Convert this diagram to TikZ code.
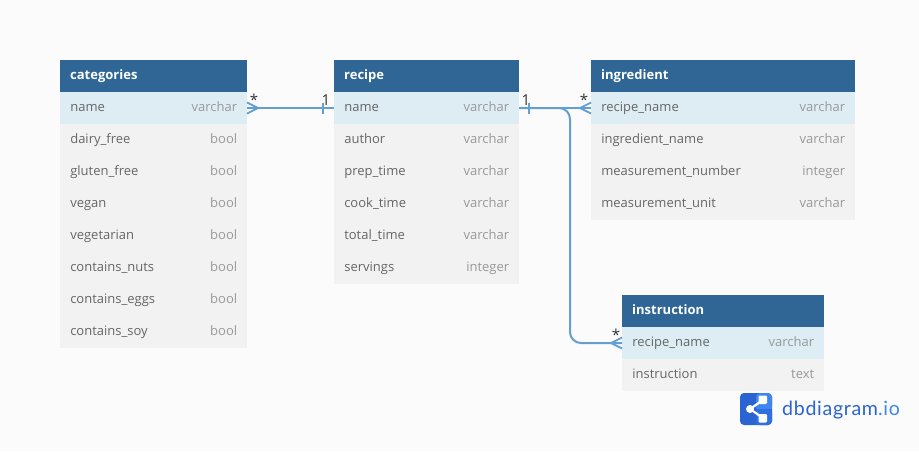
\documentclass[tikz,border=0pt]{standalone}
\usepackage{fontspec}
\setmainfont{Open Sans}
\newfontfamily\logofont[LetterSpace=3.5]{Lato}
\definecolor{bgc}{HTML}{FBFBFB}
\definecolor{headc}{HTML}{2F6695}
\definecolor{firstc}{HTML}{DEECF4}
\definecolor{rowc}{HTML}{F2F2F2}
\definecolor{namec}{HTML}{666666}
\definecolor{typec}{HTML}{999999}
\definecolor{linkc}{HTML}{649FD2}
\definecolor{logoa}{HTML}{2A64D2}
\definecolor{logob}{HTML}{3F86F0}
\definecolor{logoc}{HTML}{2F70DE}
\tikzset{
  box/.style={anchor=north west,inner sep=0pt,outer sep=0pt,minimum height=32pt},
  colname/.style={anchor=base west,inner sep=0pt,text=namec,font=\fontsize{13}{15}\selectfont},
  coltype/.style={anchor=base east,inner sep=0pt,text=typec,font=\fontsize{13}{15}\selectfont},
  title/.style={anchor=base west,inner sep=0pt,text=white,font=\fontsize{13}{15}\selectfont\bfseries},
  link/.style={draw=linkc,line width=2pt},
  mult/.style={anchor=base,inner sep=0pt,text=black!80,font=\fontsize{15}{17}\selectfont},
}
\newcommand{\dbtable}[6]{%
  \node[box,fill=headc,minimum width=#4pt] (#1) at (#2,#3) {};
  \node[title] (#1-title) at ([xshift=10pt,yshift=-3.5pt]#1.west) {#5};
  \foreach \nm/\ty [count=\i] in {#6} {
    \pgfmathsetmacro{\yy}{#3+32*\i}
    \ifnum\i=1 \def\rc{firstc}\else\def\rc{rowc}\fi
    \node[box,fill=\rc,minimum width=#4pt] (#1-\i) at (#2,\yy) {};
    \node[colname] (#1-\i-n) at ([xshift=10.1pt,yshift=-3.5pt]#1-\i.west) {\nm};
    \node[coltype] (#1-\i-t) at ([xshift=-9.6pt,yshift=-3.5pt]#1-\i.east) {\ty};
  }
}
\begin{document}
\begin{tikzpicture}[x=1pt,y=-1pt]
\path[use as bounding box,fill=bgc] (0,0) rectangle (919,451);
\dbtable{categories}{60}{60}{187}{categories}{name/varchar,dairy\_free/bool,gluten\_free/bool,vegan/bool,vegetarian/bool,contains\_nuts/bool,contains\_eggs/bool,contains\_soy/bool}
\dbtable{recipe}{334}{60}{185}{recipe}{name/varchar,author/varchar,prep\_time/varchar,cook\_time/varchar,total\_time/varchar,servings/integer}
\dbtable{ingredient}{591}{60}{264}{ingredient}{recipe\_name/varchar,ingredient\_name/varchar,measurement\_number/integer,measurement\_unit/varchar}
\dbtable{instruction}{622}{295}{202}{instruction}{recipe\_name/varchar,instruction/text}
% connectors
\draw[link] (categories-1.east) -- (recipe-1.west);
\draw[link] (recipe-1.east) -- (ingredient-1.west);
\draw[link,rounded corners=11pt] (recipe-1.east) -- (570,108) -- (570,343) -- (instruction-1.west);
% crow feet and ticks
\draw[link,line width=1.8pt] ([yshift=5.5pt]categories-1.east) -- ++(11,5.5) -- ++(-11,5.5);
\draw[link,line width=1.8pt] ([yshift=5.5pt]ingredient-1.west) -- ++(-11,5.5) -- ++(11,5.5);
\draw[link,line width=1.8pt] ([yshift=5.5pt]instruction-1.west) -- ++(-11,5.5) -- ++(11,5.5);
\draw[link,line width=1.5pt] ([xshift=-11pt,yshift=5.5pt]recipe-1.west) -- ++(0,11);
\draw[link,line width=1.5pt] ([xshift=10pt,yshift=5.5pt]recipe-1.east) -- ++(0,11);
% multiplicity labels
\node[mult] (m1) at (254,105) {*};
\node[mult] (m2) at (326,105) {1};
\node[mult] (m3) at (526,105) {1};
\node[mult] (m4) at (584,105) {*};
\node[mult] (m5) at (616,340) {*};
% logo
\fill[logoa,rounded corners=4pt] (740,393) rectangle (772,425);
\fill[logoc,rounded corners=4pt] (756,409) -- (772,409) -- (772,425) -- (756,425) -- cycle;
\fill[logoc] (756,409) rectangle (766,425);
\fill[logob,rounded corners=4pt] (756,393) -- (772,393) -- (772,409) -- (756,409) -- cycle;
\fill[logob] (756,399) rectangle (772,409);
\draw[white,line width=2.2pt] (763,400) -- (750,409) -- (763,418);
\fill[white] (750,409) circle (4);
\fill[white,rounded corners=1.2pt] (758.5,395.5) rectangle (767,404);
\fill[white,rounded corners=1.2pt] (758.5,414) rectangle (767,422.5);
\node[anchor=base west,inner sep=0pt,font=\logofont\fontsize{19.6}{21}\selectfont,text=logoa] (logo) at (782,415) {dbdiagram\textcolor{logob}{.io}};
\end{tikzpicture}
\end{document}
